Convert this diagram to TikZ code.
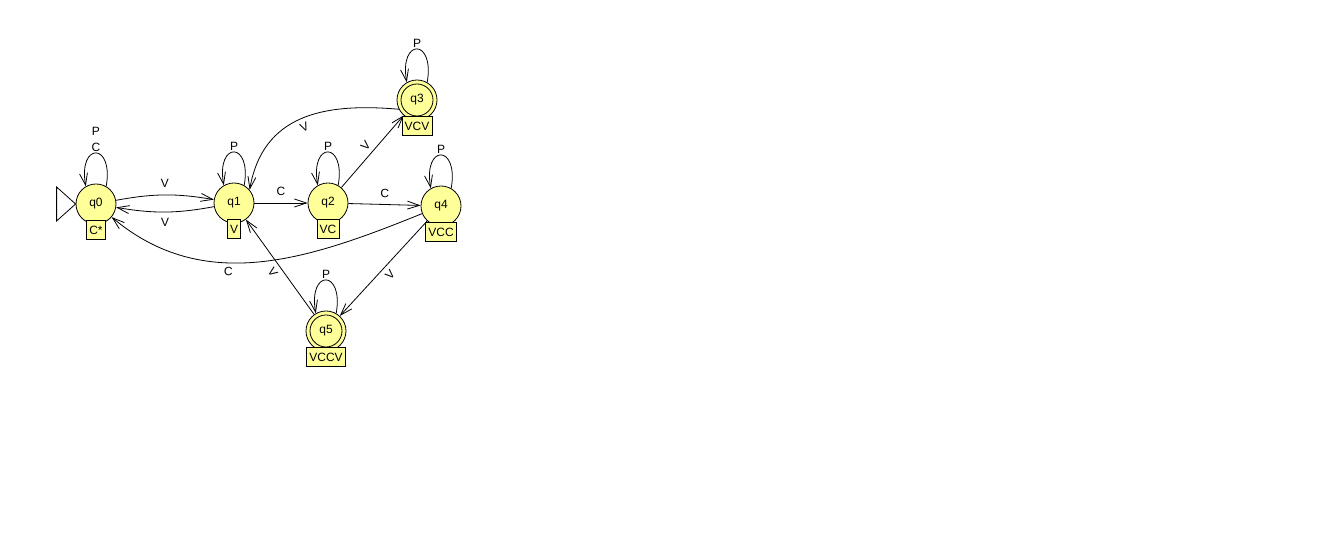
\documentclass[tikz,border=0pt]{standalone}
\usepackage{fontspec}
\setmainfont{Liberation Sans}
\usetikzlibrary{arrows.meta}
\definecolor{stateyellow}{RGB}{255,255,153}

\begin{document}
\begin{tikzpicture}[x=0.75pt,y=0.75pt,line width=0.6pt,
  font=\fontsize{9}{12}\selectfont,
  >={Straight Barb[length=9pt,width=6pt]},
  state/.style={circle,draw=black,fill=stateyellow,minimum size=30pt,inner sep=0pt},
  accept/.style={state,path picture={\draw (path picture bounding box.center) circle[radius=12pt];}},
  tag/.style={rectangle,draw=black,fill=stateyellow,inner xsep=2pt,inner ysep=0pt,minimum height=14pt},
  looplabel/.style={above,inner sep=1pt,align=center}]
\useasboundingbox (0,0) rectangle (1339,555);
%Node Coordinates
\node at (96,351) [state] (q0) {q0};
\node at (234,352) [state] (q1) {q1};
\node at (328,352) [state] (q2) {q2};
\node at (417,455) [accept] (q3) {q3};
\node at (441,349) [state] (q4) {q4};
\node at (326,224) [accept] (q5) {q5};
%Start arrow
\draw (q0.west) -- ++(-19,17) -- ++(0,-34) -- cycle;
%Connections
\draw[->] (q0) to[bend left=10] node[auto,sloped,inner sep=5pt] {V} (q1);
\draw[->] (q1) to[bend left=10] node[auto,swap,sloped,inner sep=4pt] {V} (q0);
\draw[->] (q1) -- node[auto,sloped,inner sep=5pt] {C} (q2);
\draw[->] (q2) -- node[auto,sloped,inner sep=5pt] {C} (q4);
\draw[->] (q2) -- node[auto,sloped] {V} (q3);
\draw[->] (q3.207) to[out=175,in=80,looseness=1.15] node[auto,swap,sloped] {V} (q1.40);
\draw[->] (q4) to[out=202,in=-40] node[pos=0.6,auto,swap,sloped] {C} (q0);
\draw[->] (q4) -- node[auto,swap,sloped] {V} (q5);
\draw[->] (q5) -- node[auto,swap,sloped] {V} (q1);
%Loops
\draw[->] (q0.60) .. controls +(80:45) and +(100:45) .. node[looplabel] {P\\C} (q0.120);
\draw[->] (q1.60) .. controls +(80:45) and +(100:45) .. node[looplabel] {P} (q1.120);
\draw[->] (q2.60) .. controls +(80:45) and +(100:45) .. node[looplabel] {P} (q2.120);
\draw[->] (q3.60) .. controls +(80:45) and +(100:45) .. node[looplabel] {P} (q3.120);
\draw[->] (q4.60) .. controls +(80:45) and +(100:45) .. node[looplabel] {P} (q4.120);
\draw[->] (q5.60) .. controls +(80:45) and +(100:45) .. node[looplabel] {P} (q5.120);
%Node Labels
\node [tag,below] at ([yshift=3pt]q0.south) (q0tag) {C*};
\node [tag,below] at ([yshift=3pt]q1.south) (q1tag) {V};
\node [tag,below] at ([yshift=3pt]q2.south) (q2tag) {VC};
\node [tag,below] at ([yshift=3pt]q3.south) (q3tag) {VCV};
\node [tag,below] at ([yshift=3pt]q4.south) (q4tag) {VCC};
\node [tag,below] at ([yshift=3pt]q5.south) (q5tag) {VCCV};
\end{tikzpicture}
\end{document}
